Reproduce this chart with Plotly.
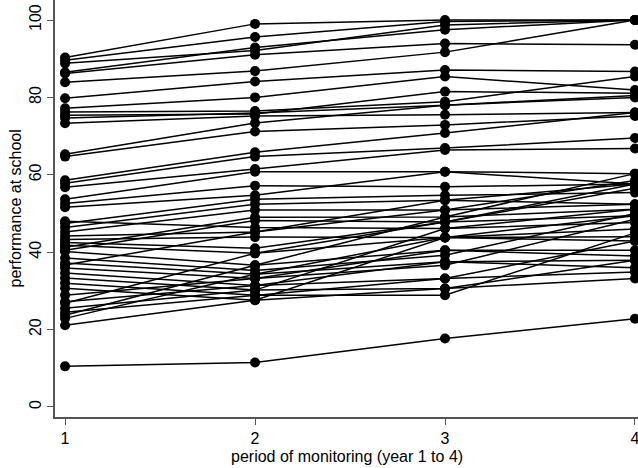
import plotly.graph_objects as go

periods = [1, 2, 3, 4]

# one entry per pupil, score in each monitoring year
year1 = [90.3, 89.6, 88.8, 86.5, 86.2, 83.9, 79.8, 77.2, 76.2, 75.4, 74.7, 73.3,
         65.3, 64.7, 58.6, 57.8, 56.8, 53.7, 52.6, 51.6, 47.4, 46.4, 45.2, 41.3,
         40.5, 48.0, 44.2, 43.3, 42.5, 41.8, 40.2, 38.5, 37.2, 35.9, 34.6, 33.3,
         32.0, 30.7, 28.9, 27.2, 25.5, 24.5, 23.7, 22.9, 21.1, 26.8, 36.7, 10.5]
year2 = [99.0, 95.6, 92.1, 92.9, 91.0, 86.8, 84.1, 80.0, 76.5, 75.7, 76.0, 75.2,
         73.4, 71.2, 65.8, 64.7, 61.5, 60.8, 57.2, 54.7, 53.7, 52.4, 50.9, 49.0,
         48.2, 46.4, 45.2, 43.9, 41.0, 39.7, 36.6, 35.3, 34.3, 33.2, 31.4, 30.2,
         28.9, 27.6, 33.2, 31.4, 30.2, 28.9, 36.6, 34.3, 27.6, 39.7, 45.2, 11.5]
year3 = [100.0, 99.6, 98.7, 97.5, 93.9, 91.7, 87.1, 85.4, 78.9, 81.5, 78.0, 75.5,
         78.0, 72.9, 70.8, 66.9, 66.4, 60.8, 56.9, 60.8, 54.7, 53.4, 50.9, 49.1,
         47.8, 46.1, 50.9, 43.8, 47.8, 43.8, 40.5, 39.2, 37.5, 36.6, 33.2, 30.6,
         28.9, 43.8, 40.5, 37.5, 46.1, 33.2, 49.1, 43.8, 30.6, 47.8, 53.4, 17.7]
year4 = [100.0, 100.0, 100.0, 100.0, 93.6, 100.0, 86.7, 81.9, 85.4, 81.1, 80.0, 76.1,
         80.5, 75.2, 76.1, 69.5, 66.8, 60.3, 57.6, 57.6, 55.4, 57.6, 52.4, 51.1,
         49.4, 47.7, 58.5, 46.0, 56.5, 42.9, 40.5, 50.0, 37.9, 48.5, 34.9, 33.2,
         45.0, 44.0, 39.0, 36.0, 51.1, 42.9, 60.3, 49.4, 37.9, 57.6, 52.4, 22.8]

y_ticks = [0, 20, 40, 60, 80, 100]

fig = go.Figure()
for scores in zip(year1, year2, year3, year4):
    fig.add_trace(go.Scatter(
        x=periods, y=list(scores), mode="lines+markers",
        line=dict(color="black", width=1.5),
        marker=dict(color="black", size=10),
        showlegend=False, hoverinfo="skip", cliponaxis=False,
    ))

axis_font = dict(family="Liberation Sans, Arial, sans-serif", size=16, color="black")
title_font = dict(family="Liberation Sans, Arial, sans-serif", size=16, color="black")

fig.update_layout(
    width=638, height=468,
    margin=dict(l=55, r=0, t=0, b=51),
    paper_bgcolor="white", plot_bgcolor="white",
    font=axis_font,
    xaxis=dict(
        range=[0.947, 4.016], tickvals=periods, ticks="outside", ticklen=6,
        tickwidth=1.2, tickcolor="#555", showline=True, linecolor="#555",
        linewidth=1.5, showgrid=False, zeroline=False, tickfont=axis_font,
        automargin=False, ticklabeloverflow="allow",
    ),
    yaxis=dict(
        range=[-2.59, 105.17], tickvals=y_ticks, ticks="outside", ticklen=6,
        tickwidth=1.2, tickcolor="#555", showline=True, linecolor="#555",
        linewidth=1.5, showgrid=False, zeroline=False, tickangle=-90,
        tickfont=axis_font, automargin=False, ticklabeloverflow="allow",
    ),
    annotations=[
        dict(text="period of monitoring (year 1 to 4)", xref="paper", yref="paper",
             x=0.5, y=0, yshift=-39, showarrow=False, font=title_font,
             xanchor="center", yanchor="middle"),
        dict(text="performance at school", xref="paper", yref="paper",
             x=0, y=0.5, xshift=-40, textangle=-90, showarrow=False,
             font=title_font, xanchor="center", yanchor="middle"),
    ],
)

# drop the default 8px body margin so the figure fills the window exactly
fig.write_html(
    "out.html",
    config={"displayModeBar": False},
    post_script="document.body.style.margin='0';document.body.style.overflow='hidden';",
)
